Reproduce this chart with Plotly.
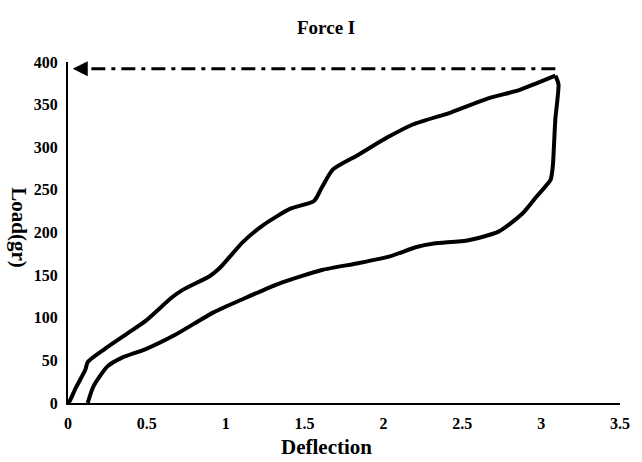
import plotly.graph_objects as go

# Loading curve (upper branch)
load_x = [0.0, 0.01, 0.05, 0.11, 0.125, 0.23, 0.38, 0.49, 0.66, 0.73, 0.90, 0.96, 1.11, 1.24,
          1.41, 1.56, 1.61, 1.68, 1.84, 2.02, 2.19, 2.43, 2.66, 2.86, 2.97, 3.09]
load_y = [0, 2, 18, 39, 48, 63, 82, 96, 124, 133, 149, 158, 189, 209,
          228, 237, 253, 274, 291, 311, 327, 341, 357, 367, 375, 384]

# Unloading curve (lower branch), from peak down
unload_x = [3.09, 3.11, 3.09, 3.08, 3.075, 3.06, 2.97, 2.88, 2.73, 2.54, 2.32, 2.21, 2.04,
            1.84, 1.61, 1.35, 1.11, 0.92, 0.68, 0.49, 0.34, 0.25, 0.16, 0.125]
unload_y = [384, 374, 333, 297, 280, 262, 242, 222, 201, 191, 187, 183, 172,
            164, 156, 141, 122, 106, 80, 63, 53, 43, 19, 0]

# Max-load reference arrow
arrow_x = [3.09, 0.06]
arrow_y = [392, 392]

x_ticks = [0, 0.5, 1, 1.5, 2, 2.5, 3, 3.5]
x_labels = ["0", "0.5", "1", "1.5", "2", "2.5", "3", "3.5"]
y_ticks = [0, 50, 100, 150, 200, 250, 300, 350, 400]

FONT = "Liberation Serif"

fig = go.Figure()
fig.add_trace(go.Scatter(x=load_x, y=load_y, mode="lines",
                         line=dict(color="black", width=4, shape="spline", smoothing=0.6),
                         showlegend=False, hoverinfo="skip"))
fig.add_trace(go.Scatter(x=unload_x, y=unload_y, mode="lines",
                         line=dict(color="black", width=4, shape="spline", smoothing=0.6),
                         showlegend=False, hoverinfo="skip"))
fig.add_trace(go.Scatter(x=arrow_x, y=arrow_y, mode="lines",
                         line=dict(color="black", width=3, dash="14px,6px,4px,6px"),
                         showlegend=False, hoverinfo="skip"))
fig.add_annotation(x=arrow_x[1] - 0.03, y=arrow_y[1], ax=arrow_x[1] + 0.02, ay=arrow_y[1],
                   xref="x", yref="y", axref="x", ayref="y",
                   showarrow=True, arrowhead=2, arrowsize=1, arrowwidth=3,
                   arrowcolor="black", text="")

# plot area: x 68..628 px, y 62..403 px
fig.add_annotation(text="Force I", x=(330 - 68) / 560, y=(403 - 27) / 341,
                   xref="paper", yref="paper", showarrow=False,
                   xanchor="center", yanchor="middle",
                   font=dict(family=FONT, size=19, color="black", weight="bold"))
fig.add_annotation(text="Deflection", x=(330 - 68) / 560, y=(403 - 447) / 341,
                   xref="paper", yref="paper", showarrow=False,
                   xanchor="center", yanchor="middle",
                   font=dict(family=FONT, size=21, color="black", weight="bold"))
fig.add_annotation(text="Load(gr)", x=(18 - 68) / 560, y=(403 - 228) / 341,
                   xref="paper", yref="paper", showarrow=False, textangle=90,
                   xanchor="center", yanchor="middle",
                   font=dict(family=FONT, size=21, color="black", weight="bold"))

fig.update_layout(
    width=642, height=462,
    margin=dict(l=68, r=14, t=62, b=59),
    paper_bgcolor="white", plot_bgcolor="white",
    xaxis=dict(range=[0, 3.5], tickvals=x_ticks, ticktext=x_labels,
               showline=True, linecolor="black", linewidth=2, showgrid=False, zeroline=False,
               ticks="", ticklabelstandoff=5,
               tickfont=dict(family=FONT, size=16, color="black", weight="bold")),
    yaxis=dict(range=[0, 400], tickvals=y_ticks,
               showline=True, linecolor="black", linewidth=2, showgrid=False, zeroline=False,
               ticks="", ticklabelstandoff=5,
               tickfont=dict(family=FONT, size=16, color="black", weight="bold")),
)

fig.write_html("out.html", config={"displayModeBar": False},
               post_script="document.body.style.margin='0';document.body.style.overflow='hidden';")
